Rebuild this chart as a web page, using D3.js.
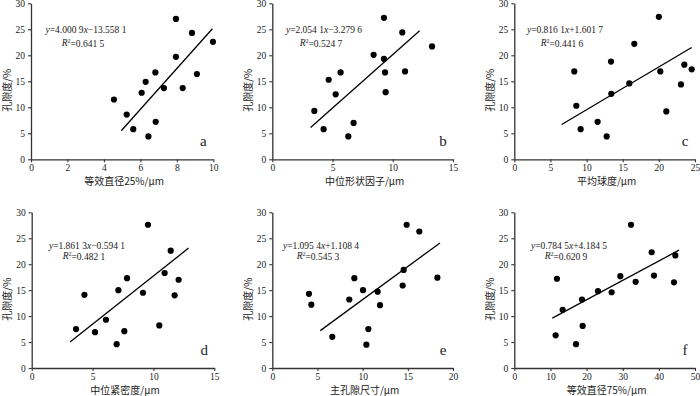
<!DOCTYPE html>
<html>
<head>
<meta charset="utf-8">
<script src="https://cdn.jsdelivr.net/npm/d3@7/dist/d3.min.js"></script>
<style>
body{margin:0;background:#fff}
text{font-family:"Liberation Serif","Noto Sans CJK SC",serif;fill:#222}
.cn{font-family:"Noto Sans CJK SC","Liberation Serif",serif}
</style>
</head>
<body>
<div id="drawing"></div>
<script>
"use strict"

/**** DATA ****/

let yTicks = [0,5,10,15,20,25,30]

// a: 等效直径25%
let xA = [4.55,5.25,5.61,6.07,6.29,6.44,6.82,6.84,7.29,7.95,7.95,8.32,8.83,9.10,9.98]
let yA = [11.5,8.6,5.8,12.8,14.9,4.4,16.7,7.2,13.7,27.0,19.7,13.7,24.3,16.4,22.6]
let trendA = [[4.95,5.5],[9.95,25.1]]
let eqA = "y=4.000 9x−13.558 1"
let r2A = "0.641 5"
let xTicksA = [0,2,4,6,8,10]

// b: 中位形状因子
let xB = [3.49,4.26,4.68,5.26,5.67,6.31,6.75,8.41,9.27,9.27,9.36,9.41,10.79,11.02,13.26]
let yB = [9.3,5.8,15.3,12.5,16.7,4.4,7.0,20.1,27.2,19.3,16.7,12.9,24.4,16.9,21.7]
let trendB = [[3.18,6.1],[12.23,24.7]]
let eqB = "y=2.054 1x−3.279 6"
let r2B = "0.524 7"
let xTicksB = [0,5,10,15]

// c: 平均球度
let xC = [8.30,8.58,9.18,11.53,12.78,13.38,13.42,15.91,16.60,20.00,20.20,21.03,23.06,23.52,24.54]
let yC = [16.9,10.3,5.8,7.2,4.4,18.8,12.6,14.6,22.2,27.4,16.9,9.2,14.4,18.2,17.3]
let trendC = [[6.55,6.7],[24.54,21.5]]
let eqC = "y=0.816 1x+1.601 7"
let r2C = "0.441 6"
let xTicksC = [0,5,10,15,20,25]

// d: 中位紧密度
let xD = [3.64,4.33,5.20,6.10,6.98,7.12,7.61,7.83,9.14,9.55,10.48,10.92,11.42,11.74,12.07]
let yD = [7.5,14.1,6.9,9.3,4.6,15.0,7.1,17.3,14.5,27.6,8.2,18.3,22.6,14.0,17.0]
let trendD = [[3.15,5.0],[12.89,23.1]]
let eqD = "y=1.861 3x−0.594 1"
let r2D = "0.482 1"
let xTicksD = [0,5,10,15]

// e: 主孔隙尺寸
let xE = [4.06,4.32,6.64,8.52,9.08,10.04,10.41,10.63,11.66,11.92,14.43,14.54,14.87,16.27,18.27]
let yE = [14.3,12.2,6.0,13.2,17.3,15.0,4.5,7.5,14.7,12.1,15.9,18.9,27.6,26.3,17.4]
let trendE = [[5.31,7.2],[18.56,24.1]]
let eqE = "y=1.095 4x+1.108 4"
let r2E = "0.545 3"
let xTicksE = [0,5,10,15,20]

// f: 等效直径75%
let xF = [11.44,11.80,13.38,17.07,18.73,18.91,23.15,26.94,29.34,32.29,33.58,38.01,38.65,44.19,44.56]
let yF = [6.3,17.2,11.2,4.6,13.2,8.1,14.8,14.6,17.7,27.6,16.6,22.3,17.8,16.5,21.7]
let trendF = [[10.52,9.6],[45.57,22.7]]
let eqF = "y=0.784 5x+4.184 5"
let r2F = "0.620 9"
let xTicksF = [0,10,20,30,40,50]


/**** LAYOUT ****/

let svgWidth = 700
let svgHeight = 396

let panels = [
{letter:"a", xs:xA, ys:yA, trend:trendA, eq:eqA, r2:r2A, xTicks:xTicksA, xTitle:"等效直径25%/μm",
 left:31, right:213.3, top:3.3, bottom:159.3, eqX:86, eqY:29.3, r2Y:42.3},
{letter:"b", xs:xB, ys:yB, trend:trendB, eq:eqB, r2:r2B, xTicks:xTicksB, xTitle:"中位形状因子/μm",
 left:272.3, right:453, top:3.3, bottom:159.3, eqX:324, eqY:29.3, r2Y:42.3},
{letter:"c", xs:xC, ys:yC, trend:trendC, eq:eqC, r2:r2C, xTicks:xTicksC, xTitle:"平均球度/μm",
 left:514.3, right:695, top:3.3, bottom:159.3, eqX:565, eqY:29.3, r2Y:42.3},
{letter:"d", xs:xD, ys:yD, trend:trendD, eq:eqD, r2:r2D, xTicks:xTicksD, xTitle:"中位紧密度/μm",
 left:31.7, right:214.3, top:212.3, bottom:368, eqX:87, eqY:245.7, r2Y:255.3},
{letter:"e", xs:xE, ys:yE, trend:trendE, eq:eqE, r2:r2E, xTicks:xTicksE, xTitle:"主孔隙尺寸/μm",
 left:272.3, right:453, top:212.3, bottom:368, eqX:321, eqY:245.7, r2Y:255.3},
{letter:"f", xs:xF, ys:yF, trend:trendF, eq:eqF, r2:r2F, xTicks:xTicksF, xTitle:"等效直径75%/μm",
 left:514.3, right:695, top:212.3, bottom:368, eqX:569, eqY:245.7, r2Y:255.3}
]


/**** CANVAS SETUP ****/

let svg = d3.select("#drawing")
.append("svg")
.attr("width", svgWidth)
.attr("height", svgHeight)

svg.append("rect")
.attr("width", svgWidth)
.attr("height", svgHeight)
.attr("fill", "#fff")


/**** DRAW PANELS ****/

panels.forEach(function(p){

let xMax = p.xTicks[p.xTicks.length-1]

let xScale = d3.scaleLinear()
.domain([0, xMax])
.range([p.left, p.right])

let yScale = d3.scaleLinear()
.domain([0, 30])
.range([p.bottom, p.top])

let g = svg.append("g")

// axes
let xAxis = g.append("g")
.attr("transform", "translate(0," + p.bottom + ")")
.call(d3.axisBottom(xScale).tickValues(p.xTicks).tickSize(3).tickPadding(2).tickSizeOuter(0))

let yAxis = g.append("g")
.attr("transform", "translate(" + p.left + ",0)")
.call(d3.axisLeft(yScale).tickValues(yTicks).tickSize(3).tickPadding(3).tickSizeOuter(0))

;[xAxis, yAxis].forEach(function(ax){
ax.select(".domain").attr("stroke", "#333").attr("stroke-width", 1.3)
ax.selectAll(".tick line").attr("stroke", "#333").attr("stroke-width", 1.1)
ax.selectAll(".tick text")
.attr("fill", "#333")
.style("font-family", "'Liberation Serif',serif")
.style("font-size", "9.5px")
})

// points
g.selectAll("circle")
.data(p.xs.map((v,i)=>[v, p.ys[i]]))
.join("circle")
.attr("cx", d=>xScale(d[0]))
.attr("cy", d=>yScale(d[1]))
.attr("r", 3.1)
.attr("fill", "#000")

// trend line
g.append("line")
.attr("x1", xScale(p.trend[0][0]))
.attr("y1", yScale(p.trend[0][1]))
.attr("x2", xScale(p.trend[1][0]))
.attr("y2", yScale(p.trend[1][1]))
.attr("stroke", "#000")
.attr("stroke-width", 1.3)

// equation
let eq = g.append("text")
.attr("x", p.eqX)
.attr("y", p.eqY)
.attr("dy", "0.35em")
.style("text-anchor", "middle")
.style("font-size", "9.5px")

p.eq.split(/([xy])/).filter(s=>s.length>0).forEach(function(s){
eq.append("tspan")
.style("font-style", (s==="x" || s==="y") ? "italic" : "normal")
.text(s)
})

let r2 = g.append("text")
.attr("x", p.eqX - 3)
.attr("y", p.r2Y)
.attr("dy", "0.35em")
.style("text-anchor", "middle")
.style("font-size", "9.5px")

r2.append("tspan").style("font-style", "italic").text("R")
r2.append("tspan").attr("dy", "-0.4em").style("font-size", "6px").text("2")
r2.append("tspan").attr("dy", "0.4em").text("=" + p.r2)

// panel letter
g.append("text")
.attr("x", p.right - 10)
.attr("y", yScale(2.5))
.style("text-anchor", "middle")
.style("font-size", "15px")
.text(p.letter)

// x title
g.append("text")
.attr("class", "cn")
.attr("x", (p.left + p.right)/2 + 2)
.attr("y", p.bottom + 22.5)
.attr("dy", "0.35em")
.style("text-anchor", "middle")
.style("font-size", "10px")
.attr("fill", "#333")
.text(p.xTitle)

// y title
g.append("text")
.attr("class", "cn")
.attr("transform", "translate(" + (p.left - 24) + "," + ((p.top + p.bottom)/2 + 9) + ") rotate(-90)")
.attr("dy", "0.35em")
.style("text-anchor", "middle")
.style("font-size", "10px")
.attr("fill", "#333")
.text("孔隙度/%")

})
</script>
</body>
</html>
